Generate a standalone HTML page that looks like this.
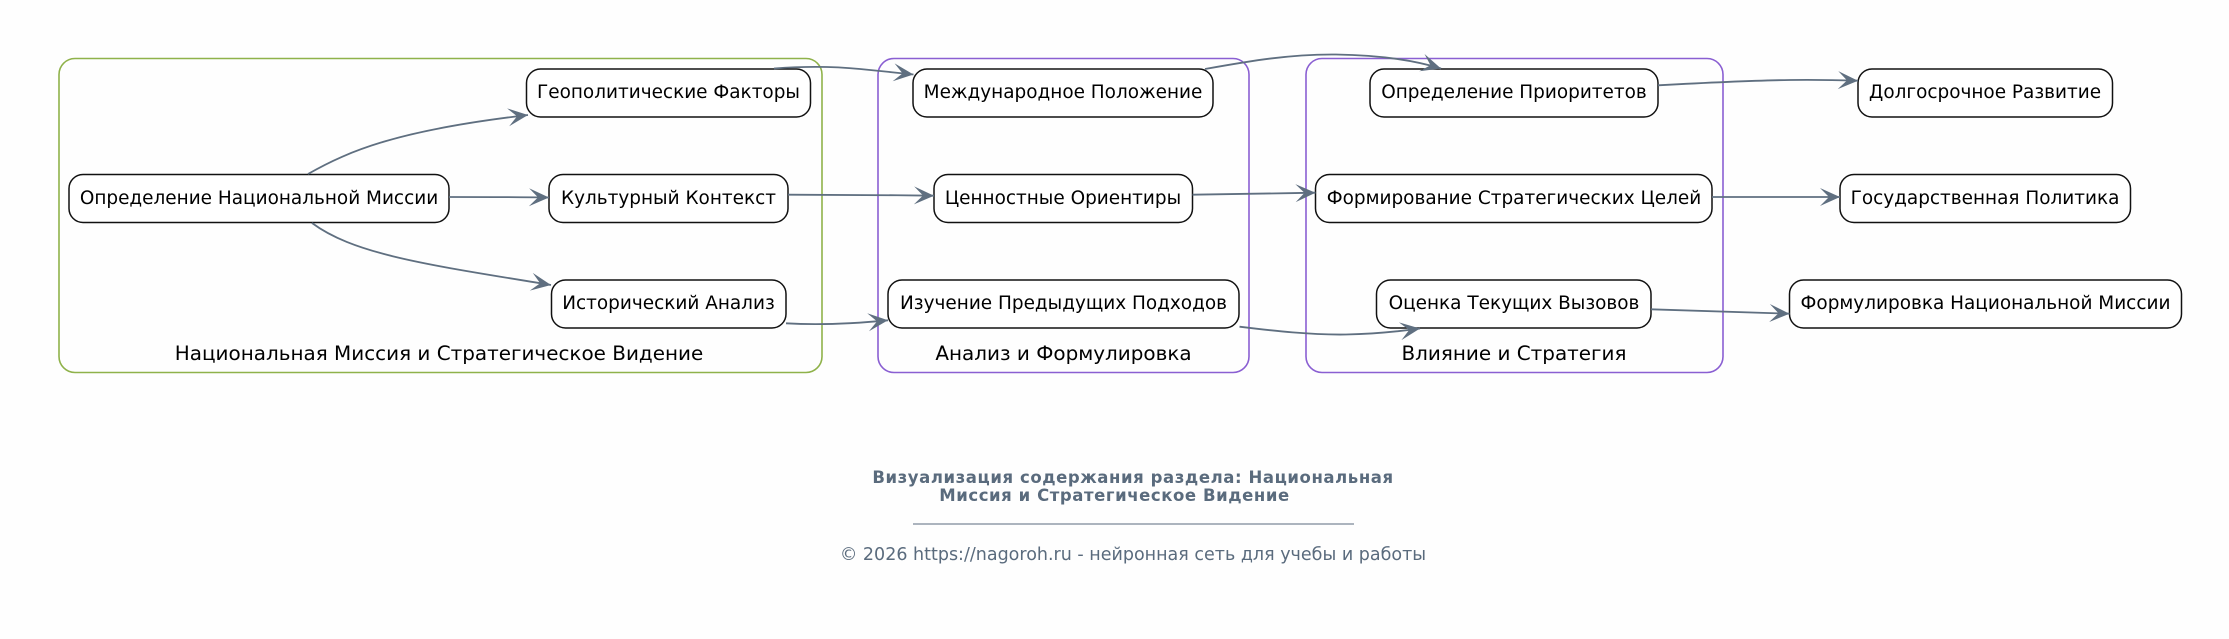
<!DOCTYPE html>
<html><head><meta charset="utf-8">
<style>
html,body{margin:0;padding:0;background:#fefefe;width:2229px;height:639px;overflow:hidden}
svg{display:block}
text{font-family:"DejaVu Sans","Liberation Sans",sans-serif}
.c{fill:none;stroke-width:1.6}
.n{fill:#fff;stroke:#111;stroke-width:1.5}
.t{font-size:18.45px;fill:#000;text-anchor:middle}
.l{font-size:19.95px;fill:#000;text-anchor:middle}
.e{fill:none;stroke:#5f6f80;stroke-width:1.8;marker-end:url(#a)}
.f{fill:#5a6b7d;text-anchor:middle}
</style></head><body>
<svg xmlns="http://www.w3.org/2000/svg" width="2229" height="639" viewBox="0 0 2229 639">
<defs><marker id="a" markerUnits="userSpaceOnUse" markerWidth="24" markerHeight="24" viewBox="-22 -12 24 24" refX="0" refY="0" orient="auto"><path d="M-20,-9 L0,0 L-20,9 L-11,0 Z" fill="#5f6f80"/></marker></defs>
<rect class="c" x="59" y="58.5" width="763" height="314" rx="16" stroke="#8fb24a"/>
<rect class="c" x="878" y="58.5" width="371" height="314" rx="16" stroke="#8a5fd2"/>
<rect class="c" x="1306" y="58.5" width="417" height="314" rx="16" stroke="#8a5fd2"/>
<text class="l" x="439" y="360">Национальная Миссия и Стратегическое Видение</text>
<text class="l" x="1063.5" y="360">Анализ и Формулировка</text>
<text class="l" x="1514" y="360">Влияние и Стратегия</text>

<rect class="n" x="69" y="174.5" width="380" height="48" rx="14"/>
<rect class="n" x="526.5" y="69" width="284" height="48" rx="14"/>
<rect class="n" x="549" y="174.5" width="239" height="48" rx="14"/>
<rect class="n" x="551.5" y="280" width="234.5" height="48" rx="14"/>
<rect class="n" x="913" y="69" width="300" height="48" rx="14"/>
<rect class="n" x="934" y="174.5" width="258.5" height="48" rx="14"/>
<rect class="n" x="888" y="280" width="351" height="48" rx="14"/>
<rect class="n" x="1370" y="69" width="288" height="48" rx="14"/>
<rect class="n" x="1315.5" y="174.5" width="396.5" height="48" rx="14"/>
<rect class="n" x="1376.5" y="280" width="274.5" height="48" rx="14"/>
<rect class="n" x="1858" y="69" width="254.5" height="48" rx="14"/>
<rect class="n" x="1840" y="174.5" width="290.5" height="48" rx="14"/>
<rect class="n" x="1789.5" y="280" width="392" height="48" rx="14"/>

<text class="t" x="259" y="204">Определение Национальной Миссии</text>
<text class="t" x="668.5" y="98">Геополитические Факторы</text>
<text class="t" x="668.5" y="204">Культурный Контекст</text>
<text class="t" x="668.5" y="309">Исторический Анализ</text>
<text class="t" x="1063" y="98">Международное Положение</text>
<text class="t" x="1063" y="204">Ценностные Ориентиры</text>
<text class="t" x="1063.5" y="309">Изучение Предыдущих Подходов</text>
<text class="t" x="1514" y="98">Определение Приоритетов</text>
<text class="t" x="1514" y="204">Формирование Стратегических Целей</text>
<text class="t" x="1514" y="309">Оценка Текущих Вызовов</text>
<text class="t" x="1985" y="98">Долгосрочное Развитие</text>
<text class="t" x="1985" y="204">Государственная Политика</text>
<text class="t" x="1985.5" y="309">Формулировка Национальной Миссии</text>

<path class="e" d="M308,174 C350,150 400,130 528,115"/>
<path class="e" d="M449,197 C480,197 515,197 549,197.5"/>
<path class="e" d="M312,223 C355,255 430,265 551,285"/>
<path class="e" d="M774,68.5 C800,66.5 830,66 860,69 C880,71 895,72.5 913.5,74.5"/>
<path class="e" d="M788,194.7 C835,194.7 885,195 934,195.7"/>
<path class="e" d="M786,323.3 C815,325 850,324 888,320.3"/>
<path class="e" d="M1205,69 C1250,61 1290,54 1336,54.5 C1375,55 1410,59 1441,68.5"/>
<path class="e" d="M1192.5,194.7 C1235,194 1275,193.5 1315.5,192.7"/>
<path class="e" d="M1239.5,326.7 C1275,331 1310,335 1346,334.5 C1370,334 1395,332 1420,328.5"/>
<path class="e" d="M1658,85.3 C1710,82.5 1750,80.5 1790,80 C1815,79.7 1835,80 1858,80.7"/>
<path class="e" d="M1712,197 C1755,197 1797,197 1840,197"/>
<path class="e" d="M1651,309.3 C1697,310.5 1743,312 1789.5,313.7"/>

<text class="f" x="1133" y="483" font-size="16.5" font-weight="700" letter-spacing=".58">Визуализация содержания раздела: Национальная</text>
<text class="f" x="1114.5" y="501" font-size="16.5" font-weight="700" letter-spacing=".57">Миссия и Стратегическое Видение</text>
<rect x="913" y="523.5" width="441" height="1" fill="#5a6b7d"/>
<text class="f" x="1133" y="560" font-size="17.5">© 2026 https://nagoroh.ru - нейронная сеть для учебы и работы</text>
</svg>
</body></html>
